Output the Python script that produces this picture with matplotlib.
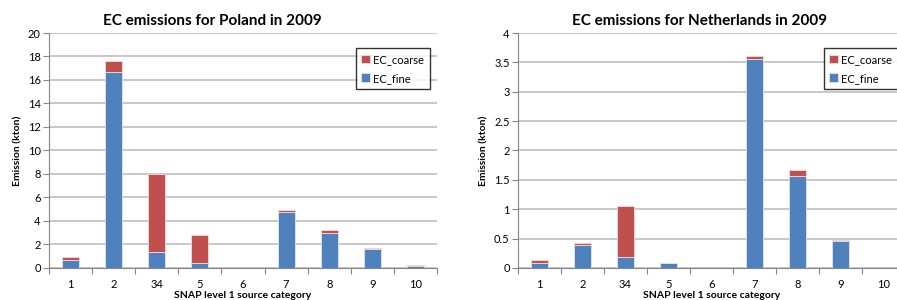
import matplotlib.pyplot as plt
import numpy as np

categories = ['1', '2', '34', '5', '6', '7', '8', '9', '10']

pl_fine = [0.65, 16.7, 1.35, 0.45, 0.0, 4.8, 3.0, 1.6, 0.2]
pl_coarse = [0.3, 0.9, 6.65, 2.4, 0.0, 0.1, 0.25, 0.1, 0.05]

nl_fine = [0.08, 0.39, 0.18, 0.08, 0.0, 3.55, 1.57, 0.46, 0.0]
nl_coarse = [0.06, 0.03, 0.87, 0.005, 0.0, 0.05, 0.1, 0.02, 0.0]

plt.rcParams['font.family'] = ['Lato', 'DejaVu Sans']

blue = '#4F81BD'
red = '#C0504D'
grid_col = '#BFBFBF'


def draw(ax, fine, coarse, title, ymax, ystep, title_x):
    x = np.arange(len(categories))
    ax.bar(x, fine, width=0.39, color=blue, edgecolor='#DCE6F2', linewidth=0.6,
           label='EC_fine', zorder=3)
    ax.bar(x, coarse, width=0.39, bottom=fine, color=red, edgecolor='#F2DCDB',
           linewidth=0.6, label='EC_coarse', zorder=3)
    ax.set_xlim(-0.5, len(categories) - 0.5)
    ax.set_ylim(0, ymax)
    yt = np.arange(0, ymax + ystep / 2, ystep)
    ax.set_yticks(yt)
    ax.set_yticklabels(['%g' % v for v in yt])
    ax.set_xticks(x)
    ax.set_xticklabels(categories)
    ax.set_xticks(np.arange(-0.5, len(categories), 1), minor=True)
    ax.tick_params(axis='x', which='major', length=0, labelsize=8, pad=8)
    ax.tick_params(axis='x', which='minor', length=4, color='#868686', width=0.8)
    ax.tick_params(axis='y', length=4, color='#868686', width=0.8, labelsize=8, pad=2)
    ax.yaxis.grid(True, color=grid_col, linewidth=1.2, zorder=0)
    for s in ['top', 'right']:
        ax.spines[s].set_visible(False)
    for s in ['left', 'bottom']:
        ax.spines[s].set_color('#868686')
        ax.spines[s].set_linewidth(0.8)
    ax.set_title(title, fontsize=11, fontweight='bold', pad=6, x=title_x)
    ax.set_xlabel('SNAP level 1 source category', fontsize=7.5, fontweight='bold', labelpad=1)
    ax.set_ylabel('Emission (kton)', fontsize=7.5, fontweight='bold', labelpad=4)
    h, l = ax.get_legend_handles_labels()
    leg = ax.legend(h[::-1], l[::-1], loc='upper left', bbox_to_anchor=(0.79, 0.935),
                    fontsize=8, frameon=True, fancybox=False, handlelength=0.8,
                    handleheight=0.8, handletextpad=0.3, labelspacing=0.7,
                    borderpad=0.5, borderaxespad=0)
    leg.get_frame().set_edgecolor('black')
    leg.get_frame().set_linewidth(1.0)


fig = plt.figure(figsize=(8.97, 3.0), dpi=100)
ax1 = fig.add_axes([0.0546, 0.1067, 0.4326, 0.7833])
ax2 = fig.add_axes([0.5775, 0.1067, 0.4314, 0.7833])

draw(ax1, pl_fine, pl_coarse, 'EC emissions for Poland in 2009', 20, 2, 0.42)
draw(ax2, nl_fine, nl_coarse, 'EC emissions for Netherlands in 2009', 4, 0.5, 0.468)

fig.savefig('out.png', dpi=100)
